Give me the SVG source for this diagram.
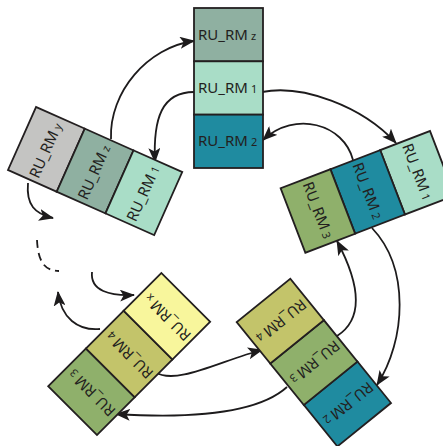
<svg xmlns="http://www.w3.org/2000/svg" width="443" height="446" viewBox="0 0 443 446">
<defs>
<marker id="ah" markerUnits="userSpaceOnUse" markerWidth="15" markerHeight="12" refX="14" refY="6" orient="auto">
<path d="M0,0 L15,6 L0,12 L3.5,6 z" fill="#1d1b1c"/>
</marker>
<style>
.c{stroke:#231f20;stroke-width:1.8}
.cz{fill:#8fb0a1}.c1{fill:#a9ddc7}.c2{fill:#1f8ba0}.cy{fill:#c4c4c2}.c3{fill:#8fb06b}.c4{fill:#c3c46a}.cx{fill:#f8f69c}
.t{font-family:"Noto Sans","Open Sans",sans-serif;font-size:15px;fill:#231f20}
.s{font-size:11px}
.l{fill:none;stroke:#1d1b1c;stroke-width:1.8}
</style>
</defs>
<g id="connectors">
<path class="l" d="M111,139 C109,92 148,47 194,41" marker-end="url(#ah)"/>
<path class="l" d="M194,92 C162,92 153,118 155,162" marker-end="url(#ah)"/>
<path class="l" d="M262,92 C302,84 362,106 396,143" marker-end="url(#ah)"/>
<path class="l" d="M353,160 C344,124 295,110 263,140" marker-end="url(#ah)"/>
<path class="l" d="M372,228 C410,268 406,340 377,385" marker-end="url(#ah)"/>
<path class="l" d="M337,336 C362,320 362,288 337,241" marker-end="url(#ah)"/>
<path class="l" d="M155,372 C176,386 222,360 262,350" marker-end="url(#ah)"/>
<path class="l" d="M287,387 C255,416 180,418 116,414" marker-end="url(#ah)"/>
<path class="l" d="M100,329 C78,331 61,318 58,292" marker-end="url(#ah)"/>
<path class="l" d="M28,183 C26,205 35,214 53,218" marker-end="url(#ah)"/>
<path class="l" d="M92,272 C90,291 110,296 134,295" marker-end="url(#ah)"/>
<path class="l" d="M37,240 C38,262 45,271 59,271" stroke-dasharray="8,5"/>
</g>
<g id="stack-top" transform="translate(194,8)">
<g id="top-z"><rect class="c cz" x="0" y="0" width="69" height="53.33"/><text class="t" x="4" y="31.5">RU_RM<tspan class="s" dx="3">z</tspan></text></g>
<g id="top-1"><rect class="c c1" x="0" y="53.33" width="69" height="53.33"/><text class="t" x="4" y="84.8">RU_RM<tspan class="s" dx="3">1</tspan></text></g>
<g id="top-2"><rect class="c c2" x="0" y="106.67" width="69" height="53.33"/><text class="t" x="4" y="138.2">RU_RM<tspan class="s" dx="3">2</tspan></text></g>
</g>
<g id="stack-left" transform="translate(8,170) rotate(-66)">
<g id="left-y"><rect class="c cy" x="0" y="0" width="69" height="53.33"/><text class="t" x="4" y="31.5">RU_RM<tspan class="s" dx="3">y</tspan></text></g>
<g id="left-z"><rect class="c cz" x="0" y="53.33" width="69" height="53.33"/><text class="t" x="4" y="84.8">RU_RM<tspan class="s" dx="3">z</tspan></text></g>
<g id="left-1"><rect class="c c1" x="0" y="106.67" width="69" height="53.33"/><text class="t" x="4" y="138.2">RU_RM<tspan class="s" dx="3">1</tspan></text></g>
</g>
<g id="stack-right" transform="translate(430,131) rotate(69)">
<g id="right-1"><rect class="c c1" x="0" y="0" width="69" height="53.33"/><text class="t" x="4" y="31.5">RU_RM<tspan class="s" dx="3">1</tspan></text></g>
<g id="right-2"><rect class="c c2" x="0" y="53.33" width="69" height="53.33"/><text class="t" x="4" y="84.8">RU_RM<tspan class="s" dx="3">2</tspan></text></g>
<g id="right-3"><rect class="c c3" x="0" y="106.67" width="69" height="53.33"/><text class="t" x="4" y="138.2">RU_RM<tspan class="s" dx="3">3</tspan></text></g>
</g>
<g id="stack-bottom-right" transform="translate(391,403) rotate(141)">
<g id="br-2"><rect class="c c2" x="0" y="0" width="69" height="53.33"/><text class="t" x="4" y="31.5">RU_RM<tspan class="s" dx="3">2</tspan></text></g>
<g id="br-3"><rect class="c c3" x="0" y="53.33" width="69" height="53.33"/><text class="t" x="4" y="84.8">RU_RM<tspan class="s" dx="3">3</tspan></text></g>
<g id="br-4"><rect class="c c4" x="0" y="106.67" width="69" height="53.33"/><text class="t" x="4" y="138.2">RU_RM<tspan class="s" dx="3">4</tspan></text></g>
</g>
<g id="stack-bottom-left" transform="translate(97,435) rotate(225)">
<g id="bl-3"><rect class="c c3" x="0" y="0" width="69" height="53.33"/><text class="t" x="4" y="31.5">RU_RM<tspan class="s" dx="3">3</tspan></text></g>
<g id="bl-4"><rect class="c c4" x="0" y="53.33" width="69" height="53.33"/><text class="t" x="4" y="84.8">RU_RM<tspan class="s" dx="3">4</tspan></text></g>
<g id="bl-x"><rect class="c cx" x="0" y="106.67" width="69" height="53.33"/><text class="t" x="4" y="138.2">RU_RM<tspan class="s" dx="3">x</tspan></text></g>
</g>
</svg>
